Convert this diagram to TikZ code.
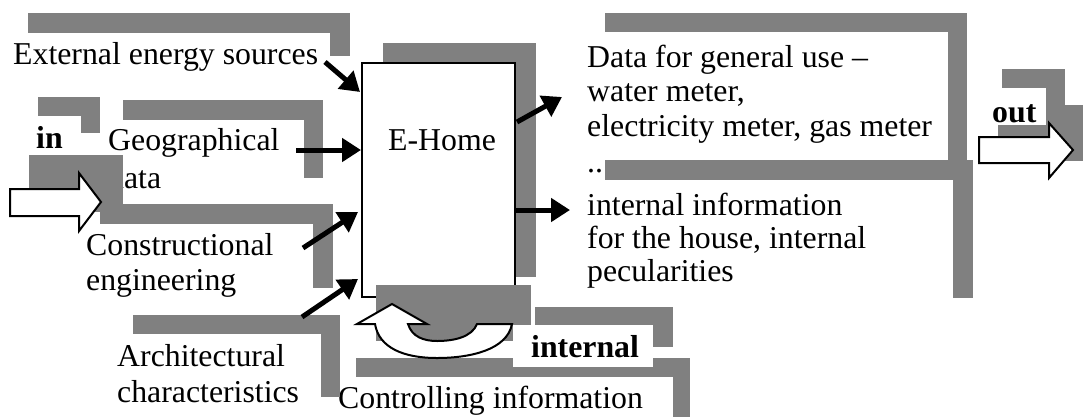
\documentclass[tikz,border=0pt]{standalone}
\usepackage{fontspec}
\setmainfont{Liberation Serif}
\usetikzlibrary{arrows.meta}
\definecolor{shadegray}{RGB}{128,128,128}
\begin{document}
\begin{tikzpicture}[x=1pt,y=-1pt,
  txt/.style={anchor=base west,inner sep=0pt,font=\fontsize{31.8}{34}\selectfont},
  btxt/.style={anchor=base west,inner sep=0pt,font=\fontsize{31.8}{34}\selectfont\bfseries},
  shd/.style={fill=shadegray},
  wbox/.style={fill=white},
  conn/.style={line width=5pt,-{Triangle[length=19pt,width=23pt]}},
  blockarrow/.style={draw=black,fill=white,line width=2pt,line join=miter},
]
\useasboundingbox[fill=white] (0,0) rectangle (1083,416);

% External energy sources
\fill[shd] (28,13) rectangle (350,56);
\fill[wbox] (8,33) rectangle (330,76);
\node[txt] (ext) at (13,64) {External energy sources};

% in
\fill[shd] (38,97) rectangle (100,133);
\fill[wbox] (19,116) rectangle (81,152);
\node[btxt] (in) at (36,148) {in};

% Geographical data
\fill[shd] (123,100) rectangle (323,178);
\fill[wbox] (104,120) rectangle (304,197);
\node[txt] (geo1) at (108,150) {Geographical};
\node[txt] (geo2) at (108,188) {data};

% Constructional engineering
\fill[shd] (100,204) rectangle (333,288);
\fill[wbox] (81,224) rectangle (313,308);
\node[txt] (cons1) at (86,255) {Constructional};
\node[txt] (cons2) at (86,290) {engineering};

% in arrow
\fill[shd] (29,155) rectangle (123,212);
\draw[blockarrow] (10,189) -- (79,189) -- (79,173) -- (101,202) -- (79,231) -- (79,216) -- (10,216) -- cycle;

% Controlling information
\fill[shd] (356,358) rectangle (690,440);
\fill[wbox] (340,377) rectangle (673,450);
\node[txt] (ctrl) at (338,408) {Controlling information};

% Architectural characteristics
\fill[shd] (133,315) rectangle (340,397);
\fill[wbox] (113,334) rectangle (321,416);
\node[txt] (arch1) at (117,366) {Architectural};
\node[txt] (arch2) at (117,402) {characteristics};

% E-Home
\fill[shd] (383,43) rectangle (536,277);
\node[draw,line width=2pt,fill=white,minimum width=153pt,minimum height=234pt,inner sep=0pt] (ehome) at (438.5,180) {};
\node[txt] (ehometxt) at (388,150) {E-Home};

% Data for general use
\fill[shd] (605,13) rectangle (967,160);
\fill[wbox] (586,32) rectangle (948,179);
\node[txt] (data1) at (587,67) {Data for general use –};
\node[txt] (data2) at (587,101) {water meter,};
\node[txt] (data3) at (587,136) {electricity meter, gas meter};
\node[txt] (data4) at (587,172) {..};

% internal information
\fill[shd] (605,160) rectangle (973,298);
\fill[wbox] (586,180) rectangle (953,318);
\node[txt] (info1) at (587,215) {internal information};
\node[txt] (info2) at (587,248) {for the house, internal};
\node[txt] (info3) at (587,281) {pecularities};

% out
\fill[shd] (998,105) rectangle (1092,161);
\fill[shd] (1002,69) rectangle (1065,106);
\fill[wbox] (983,88) rectangle (1046,125);
\node[btxt] (out) at (992,122) {out};
\draw[blockarrow] (979,137) -- (1049,137) -- (1049,123) -- (1073,150) -- (1049,178) -- (1049,163) -- (979,163) -- cycle;

% curved arrow
\fill[shd] (376,285) rectangle (531,341);
\draw[blockarrow] (477,324) -- (512,324)
  .. controls (507,350) and (470,358) .. (437,358)
  .. controls (404,358) and (379,348) .. (375,324)
  -- (357,324) -- (392,304) -- (427,324) -- (408,324)
  .. controls (412,337) and (424,341) .. (437,341)
  .. controls (454,341) and (472,337) .. (477,324) -- cycle;

% internal
\fill[shd] (535,307) rectangle (673,347);
\fill[wbox] (513,325) rectangle (653,367);
\node[btxt] (intl) at (531,357) {internal};

% connectors
\coordinate (extS) at (325,62);   \coordinate (extE) at (360,92);
\coordinate (geoS) at (296,150);  \coordinate (geoE) at (361,150);
\coordinate (consS) at (303,248); \coordinate (consE) at (358,212);
\coordinate (archS) at (302,317); \coordinate (archE) at (358,279);
\coordinate (o1S) at (517,122);   \coordinate (o1E) at (562,97);
\coordinate (o2S) at (515,210);   \coordinate (o2E) at (570,210);
\draw[conn] (extS) -- (extE);
\draw[conn] (geoS) -- (geoE);
\draw[conn] (consS) -- (consE);
\draw[conn] (archS) -- (archE);
\draw[conn] (o1S) -- (o1E);
\draw[conn] (o2S) -- (o2E);
\end{tikzpicture}
\end{document}
